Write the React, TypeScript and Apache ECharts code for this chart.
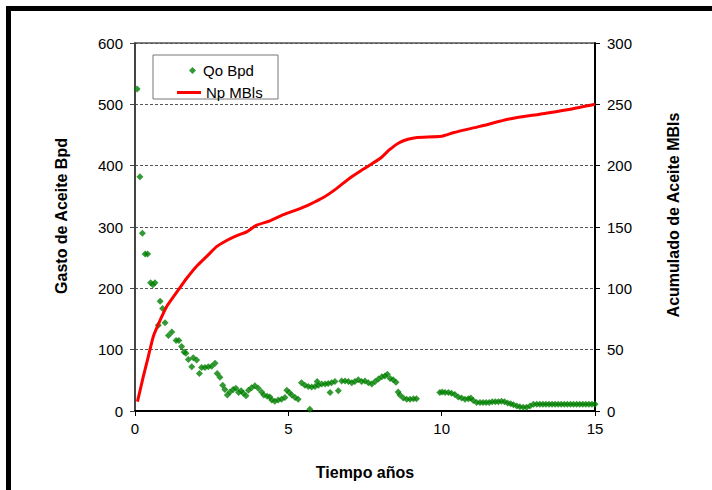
import React, { useEffect, useRef } from "react";
import * as echarts from "echarts";

const qoYears = [
  0.07, 0.16, 0.24, 0.33, 0.41, 0.51, 0.58, 0.65, 0.76, 0.82, 0.9, 0.98, 1.09, 1.2, 1.34, 1.43, 1.52, 1.6, 1.66, 1.74,
  1.85, 1.9, 2.01, 2.1, 2.17, 2.28, 2.39, 2.5, 2.61, 2.68, 2.77, 2.86, 2.93, 3.01, 3.1, 3.2, 3.29, 3.38, 3.46, 3.53,
  3.62, 3.7, 3.8, 3.91, 4.02, 4.13, 4.2, 4.31, 4.4, 4.46, 4.56, 4.67, 4.78, 4.89, 4.95, 5.03, 5.11, 5.22, 5.32, 5.43,
  5.54, 5.65, 5.7, 5.76, 5.87, 5.94, 5.98, 6.09, 6.2, 6.3, 6.36, 6.41, 6.52, 6.63, 6.74, 6.85, 6.96, 7.07, 7.17, 7.28,
  7.39, 7.5, 7.61, 7.72, 7.83, 7.94, 8.05, 8.15, 8.23, 8.32, 8.42, 8.51, 8.58, 8.64, 8.75, 8.86, 8.97, 9.08, 9.18,
  9.94, 10.02, 10.11, 10.22, 10.32, 10.43, 10.54, 10.65, 10.76, 10.87, 10.95, 11.03, 11.14, 11.25, 11.35, 11.45, 11.55,
  11.65, 11.75, 11.85, 11.95, 12.05, 12.15, 12.25, 12.34, 12.45, 12.55, 12.66, 12.77, 12.88, 12.99, 13.1, 13.2, 13.3,
  13.4, 13.5, 13.6, 13.7, 13.8, 13.9, 14.0, 14.1, 14.2, 14.3, 14.4, 14.5, 14.6, 14.7, 14.8, 14.9, 15.0,
];
const qoBpd = [
  525, 382, 290, 256, 256, 209, 206, 209, 140, 179, 167, 144, 123, 129, 115, 115, 105, 96, 94, 84,
  72, 87, 83, 61, 71, 71, 72, 73, 78, 61, 55, 42, 35, 26, 31, 35, 37, 30, 33, 29,
  25, 34, 38, 41, 37, 31, 26, 24, 23, 18, 16, 18, 19, 22, 34, 30, 26, 22, 19, 46,
  42, 40, 3, 39, 40, 48, 42, 44, 44, 45, 30, 46, 48, 33, 49, 49, 48, 46, 48, 51,
  48, 49, 46, 44, 48, 52, 56, 57, 60, 53, 51, 47, 31, 26, 21, 19, 19, 20, 20,
  30, 31, 30, 30, 29, 27, 23, 21, 19, 20, 21, 17, 14, 14, 14, 14, 14,
  15, 15, 15, 16, 15, 13, 12, 10, 8, 7, 6, 6, 8, 11, 11, 11, 11,
  11, 11, 11, 11, 11, 11, 11, 11, 11, 11, 11, 11, 11, 11, 11, 11, 11, 11,
];

const npYears = [
  0.08, 0.27, 0.43, 0.6, 0.82, 1.03, 1.25, 1.45, 1.68, 2.01, 2.34, 2.66, 2.99, 3.32, 3.64, 3.97, 4.4, 4.84, 5.27,
  5.7, 6.14, 6.58, 7.01, 7.44, 7.66, 8.0, 8.3, 8.6, 8.9, 9.2, 10.0, 10.4, 11.25, 12.2, 13.2, 14.2, 15.0,
];
const npMBls = [
  7.6, 28, 44, 61, 74, 85, 93, 100, 108, 118, 126, 134, 139, 143, 146, 151.5, 155, 160, 164,
  168.5, 174, 181.5, 190, 197, 200.5, 206, 213, 218.5, 221.5, 223, 224, 227, 232, 238, 242, 246, 250,
];

const xTicks = [0, 5, 10, 15];
const leftTicks = [0, 100, 200, 300, 400, 500, 600];
const rightTicks = [0, 50, 100, 150, 200, 250, 300];

const FONT = "'Liberation Sans', Arial, sans-serif";

export default function App() {
  const ref = useRef<HTMLDivElement>(null);
  useEffect(() => {
    if (!ref.current) return;
    const chart = echarts.init(ref.current, null, { renderer: "svg" });
    const qoData = qoYears.map((t, i) => [t, qoBpd[i]]);
    const npData = npYears.map((t, i) => [t, npMBls[i]]);
    chart.setOption({
      animation: false,
      backgroundColor: "#ffffff",
      textStyle: { fontFamily: FONT },
      grid: {
        left: 135,
        top: 43,
        width: 460,
        height: 368,
        show: true,
        borderColor: "#000",
        borderWidth: 1,
        backgroundColor: "transparent",
      },
      legend: [
        {
          data: [{ name: "Qo Bpd", icon: "diamond" }],
          left: 184,
          top: 58,
          itemWidth: 7,
          itemHeight: 7,
          z: 6,
          textStyle: { fontFamily: FONT, fontSize: 15, color: "#000", padding: [0, 0, 0, 2] },
        },
        {
          data: [{ name: "Np MBls", icon: "rect" }],
          left: 172,
          top: 80,
          itemWidth: 24,
          itemHeight: 3,
          z: 6,
          textStyle: { fontFamily: FONT, fontSize: 15, color: "#000" },
        },
      ],
      xAxis: {
        type: "value",
        min: 0,
        max: 15,
        interval: 5,
        name: "Tiempo años",
        nameLocation: "middle",
        nameGap: 53,
        nameTextStyle: { fontFamily: FONT, fontWeight: "bold", fontSize: 16, color: "#000" },
        axisLine: { onZero: false, lineStyle: { color: "#000", width: 2 } },
        axisTick: { show: true, length: 5, lineStyle: { color: "#000" } },
        axisLabel: {
          fontFamily: FONT,
          fontSize: 15,
          color: "#000",
          margin: 10,
          customValues: xTicks,
        },
        splitLine: { show: false },
      },
      yAxis: [
        {
          type: "value",
          min: 0,
          max: 600,
          interval: 100,
          position: "left",
          name: "Gasto de Aceite Bpd",
          nameLocation: "middle",
          nameRotate: 90,
          nameGap: 66,
          nameTextStyle: { fontFamily: FONT, fontWeight: "bold", fontSize: 16, color: "#000", padding: [0, 0, 0, 22] },
          axisLine: { show: true, lineStyle: { color: "#444", width: 2 } },
          axisTick: { show: true, length: 5, lineStyle: { color: "#444" } },
          axisLabel: { fontFamily: FONT, fontSize: 15, color: "#000", margin: 12, customValues: leftTicks },
          splitLine: { show: true, lineStyle: { color: "#555", type: [3, 2], width: 1 } },
        },
        {
          type: "value",
          min: 0,
          max: 300,
          interval: 50,
          position: "right",
          name: "Acumulado de Aceite MBls",
          nameLocation: "middle",
          nameRotate: 90,
          nameGap: 70,
          nameTextStyle: { fontFamily: FONT, fontWeight: "bold", fontSize: 16, color: "#000", padding: [0, 0, 0, 24] },
          axisLine: { show: true, lineStyle: { color: "#000", width: 2 } },
          axisTick: { show: true, length: 5, lineStyle: { color: "#000" } },
          axisLabel: { fontFamily: FONT, fontSize: 15, color: "#000", margin: 12, customValues: rightTicks },
          splitLine: { show: false },
        },
      ],
      graphic: [
        {
          type: "rect",
          z: 3,
          shape: { x: 153, y: 55, width: 125, height: 44 },
          style: { fill: "#fff", stroke: "#777", lineWidth: 1 },
        },
        {
          type: "line",
          z: 10,
          shape: { x1: 8, y1: 8.5, x2: 712, y2: 8.5 },
          style: { stroke: "#000", lineWidth: 5 },
        },
        {
          type: "line",
          z: 10,
          shape: { x1: 8.5, y1: 6, x2: 8.5, y2: 490 },
          style: { stroke: "#000", lineWidth: 5 },
        },
      ],
      series: [
        {
          name: "Qo Bpd",
          type: "scatter",
          yAxisIndex: 0,
          data: qoData,
          symbol: "diamond",
          symbolSize: 7,
          itemStyle: { color: "#008000" },
          z: 3,
        },
        {
          name: "Np MBls",
          type: "line",
          yAxisIndex: 1,
          data: npData,
          showSymbol: false,
          symbol: "none",
          smooth: 0.2,
          lineStyle: { color: "#ff0000", width: 3 },
          itemStyle: { color: "#ff0000" },
          z: 4,
        },
      ],
    });
    return () => chart.dispose();
  }, []);
  return (
    <div
      ref={ref}
      style={{ position: "fixed", left: 0, top: 0, width: 712, height: 490, background: "#fff" }}
    />
  );
}
